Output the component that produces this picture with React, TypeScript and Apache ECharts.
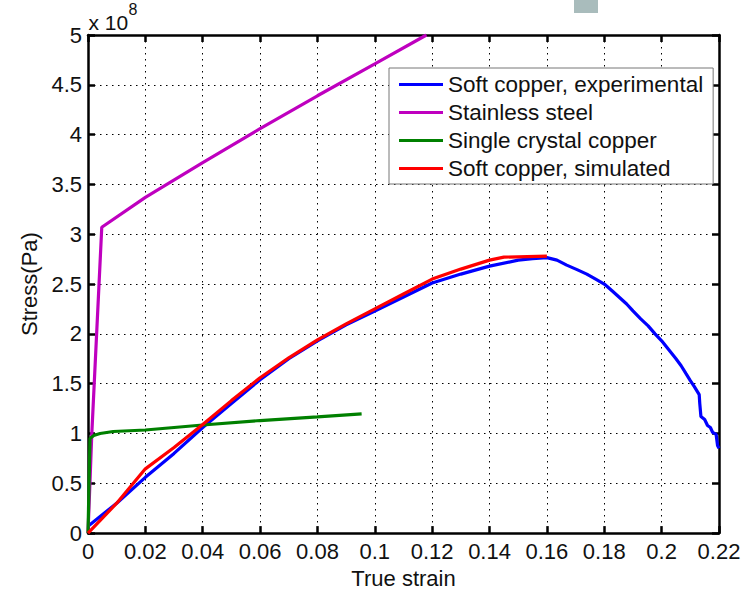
import React, { useEffect, useRef } from "react";
import * as echarts from "echarts";

// strain (-) vs stress (x 1e8 Pa)
const softCopperExperimental: [number, number][] = [
  [0, 0.07], [0.01, 0.3], [0.02, 0.56], [0.03, 0.8], [0.04, 1.06], [0.05, 1.3],
  [0.06, 1.54], [0.07, 1.75], [0.08, 1.93], [0.09, 2.09], [0.1, 2.23], [0.11, 2.37],
  [0.12, 2.51], [0.13, 2.6], [0.14, 2.68], [0.15, 2.74], [0.155, 2.755], [0.16, 2.765],
  [0.1635, 2.74], [0.1669, 2.69], [0.1705, 2.645], [0.1739, 2.6], [0.177, 2.55],
  [0.18, 2.5], [0.1828, 2.43], [0.1855, 2.36], [0.1878, 2.3], [0.19, 2.23], [0.1927, 2.15],
  [0.1953, 2.08], [0.1977, 2.0], [0.2, 1.93], [0.2025, 1.84], [0.205, 1.75], [0.2068, 1.68],
  [0.2085, 1.6], [0.21, 1.53], [0.2114, 1.47], [0.2131, 1.39], [0.2133, 1.3],
  [0.2137, 1.17], [0.215, 1.14], [0.216, 1.08], [0.217, 1.06], [0.2178, 1.01],
  [0.219, 0.99], [0.2195, 0.88], [0.22, 0.85],
];
const stainlessSteel: [number, number][] = [
  [0, 0], [0.0008, 0.6], [0.0013, 0.98], [0.0048, 3.07], [0.02, 3.37], [0.04, 3.72],
  [0.06, 4.06], [0.08, 4.39], [0.1, 4.71], [0.118, 5.0],
];
const singleCrystalCopper: [number, number][] = [
  [0, 0], [0.0007, 0.95], [0.002, 0.98], [0.0042, 1.0], [0.0088, 1.02], [0.02, 1.035],
  [0.04, 1.085], [0.06, 1.13], [0.08, 1.167], [0.0954, 1.197],
];
const softCopperSimulated: [number, number][] = [
  [0, 0], [0.01, 0.3], [0.02, 0.645], [0.03, 0.86], [0.04, 1.09], [0.05, 1.33],
  [0.06, 1.56], [0.07, 1.76], [0.08, 1.94], [0.09, 2.1], [0.1, 2.25], [0.11, 2.4],
  [0.12, 2.55], [0.13, 2.65], [0.14, 2.74], [0.145, 2.77], [0.16, 2.78],
];

const seriesNames = [
  "Soft copper, experimental",
  "Stainless steel",
  "Single crystal copper",
  "Soft copper, simulated",
];
const seriesColors = ["#0000ff", "#bf00bf", "#008000", "#ff0000"];
const seriesData = [softCopperExperimental, stainlessSteel, singleCrystalCopper, softCopperSimulated];

const xMin = 0, xMax = 0.22, xStep = 0.02;
const yMin = 0, yMax = 5, yStep = 0.5;

const FONT = "'Liberation Sans', Arial, Helvetica, sans-serif";

export default function App() {
  const ref = useRef<HTMLDivElement>(null);
  useEffect(() => {
    if (!ref.current) return;
    const chart = echarts.init(ref.current, undefined, { renderer: "svg" });
    const gridLine = () => ({ show: true, lineStyle: { color: "#000", width: 1, type: [1.5, 4.5] as any } });
    const axisLine = () => ({ show: true, onZero: false, lineStyle: { color: "#000", width: 2.5 } });
    const tick = () => ({ show: true, inside: true, length: 7, lineStyle: { color: "#000", width: 2.5 } });
    const option: any = {
      animation: false,
      backgroundColor: "#fff",
      grid: { left: 88, right: 32, top: 35, bottom: 51.5, containLabel: false },
      xAxis: [
        {
          type: "value", min: xMin, max: xMax, interval: xStep, position: "bottom",
          axisLine: axisLine(), axisTick: tick(), splitLine: gridLine(),
          axisLabel: {
            color: "#111", fontSize: 22, fontFamily: FONT, margin: 7,
            formatter: (v: number) => String(+v.toFixed(2)),
          },
          name: "True strain", nameLocation: "middle", nameGap: 28,
          nameTextStyle: { color: "#111", fontSize: 22, fontFamily: FONT },
        },
        {
          type: "value", min: xMin, max: xMax, interval: xStep, position: "top",
          axisLine: axisLine(), axisTick: tick(), splitLine: { show: false }, axisLabel: { show: false },
        },
      ],
      yAxis: [
        {
          type: "value", min: yMin, max: yMax, interval: yStep, position: "left",
          axisLine: axisLine(), axisTick: tick(), splitLine: gridLine(),
          axisLabel: { color: "#111", fontSize: 22, fontFamily: FONT, margin: 6 },
          name: "Stress(Pa)", nameLocation: "middle", nameGap: 43,
          nameTextStyle: { color: "#111", fontSize: 22, fontFamily: FONT },
        },
        {
          type: "value", min: yMin, max: yMax, interval: yStep, position: "right",
          axisLine: axisLine(), axisTick: tick(), splitLine: { show: false }, axisLabel: { show: false },
        },
      ],
      legend: {
        show: true, orient: "vertical", left: 389, top: 68,
        data: seriesNames, icon: "rect", itemWidth: 44, itemHeight: 3, itemGap: 5,
        padding: [5, 10, 4, 10],
        backgroundColor: "#fff", borderColor: "#777", borderWidth: 1,
        textStyle: { color: "#111", fontSize: 22.5, fontFamily: FONT, lineHeight: 22 },
      },
      series: seriesNames.map((name, i) => ({
        name, type: "line", data: seriesData[i], showSymbol: false, symbol: "none",
        color: seriesColors[i], lineStyle: { color: seriesColors[i], width: 3.2 },
        clip: true, z: 2 + i,
      })),
      graphic: [
        {
          type: "rect", shape: { x: 574, y: 0, width: 24, height: 13 },
          style: { fill: "#a9bcbc" }, silent: true,
        },
        {
          type: "text", x: 88.5, y: 22.7,
          style: { text: "x 10", fontSize: 21, fontFamily: FONT, fill: "#111", verticalAlign: "middle", align: "left" },
        },
        {
          type: "text", x: 128.5, y: 9.4,
          style: { text: "8", fontSize: 16, fontFamily: FONT, fill: "#111", verticalAlign: "middle", align: "left" },
        },
      ],
    };
    chart.setOption(option);
    return () => chart.dispose();
  }, []);
  return (
    <div
      ref={ref}
      style={{ position: "fixed", left: 0, top: 0, width: 751, height: 594, background: "#fff" }}
    />
  );
}
